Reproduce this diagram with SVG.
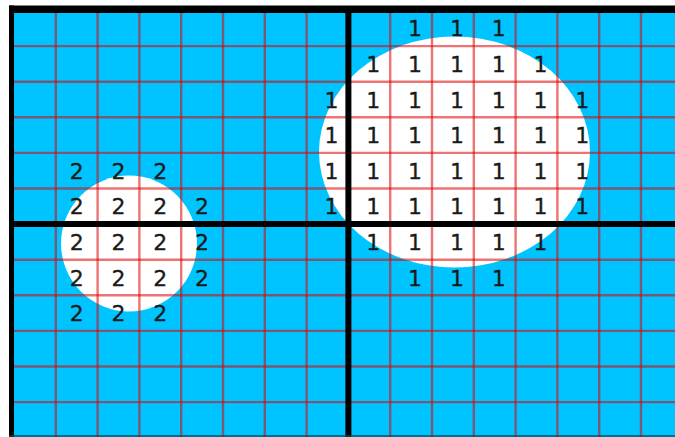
<svg xmlns="http://www.w3.org/2000/svg" width="675" height="437" viewBox="0 0 675 437">
<style>
.g{stroke:#e00000;stroke-opacity:0.55;stroke-width:2.4;fill:none}
.b{stroke:#000;stroke-width:6;fill:none}
.n{font-family:"DejaVu Sans",sans-serif;font-size:22px;fill:#1a1a1a;text-anchor:middle;stroke:#1a1a1a;stroke-width:0.3}
</style>
<rect x="0" y="0" width="675" height="437" fill="#ffffff"/>
<g id="background">
<rect x="9" y="6" width="666" height="431" fill="#00c4ff"/>
</g>
<g id="blobs">
<ellipse cx="454.5" cy="152" rx="135.5" ry="115.5" fill="#ffffff"/>
<circle cx="129" cy="243.5" r="68" fill="#ffffff"/>
</g>
<g id="grid" class="g">
<path d="M55.8 10V437M97.6 10V437M139.4 10V437M181.2 10V437M223 10V437M264.8 10V437M306.6 10V437M390.2 10V437M432 10V437M473.8 10V437M515.6 10V437M557.4 10V437M599.2 10V437M641 10V437"/>
<path d="M12 46.1H675M12 81.7H675M12 117.3H675M12 152.9H675M12 188.5H675M12 259.7H675M12 295.3H675M12 330.9H675M12 366.5H675M12 402.1H675"/>
</g>
<g id="axes">
<rect x="9" y="5.5" width="666" height="7.5" fill="#000"/>
<rect x="9" y="5.5" width="5" height="431.5" fill="#000"/>
<line class="b" x1="348.4" y1="10" x2="348.4" y2="437"/>
<line class="b" x1="12" y1="224.1" x2="675" y2="224.1"/>
<line x1="9" y1="436" x2="675" y2="436" stroke="#0a4a5a" stroke-width="2" stroke-opacity="0.7"/>
</g>
<g id="ones" transform="translate(4 0)">
<text class="n" x="411.1" y="36.3">1</text><text class="n" x="452.9" y="36.3">1</text><text class="n" x="494.7" y="36.3">1</text>
<text class="n" x="369.3" y="71.9">1</text><text class="n" x="411.1" y="71.9">1</text><text class="n" x="452.9" y="71.9">1</text><text class="n" x="494.7" y="71.9">1</text><text class="n" x="536.5" y="71.9">1</text>
<text class="n" x="327.5" y="107.5">1</text><text class="n" x="369.3" y="107.5">1</text><text class="n" x="411.1" y="107.5">1</text><text class="n" x="452.9" y="107.5">1</text><text class="n" x="494.7" y="107.5">1</text><text class="n" x="536.5" y="107.5">1</text><text class="n" x="578.3" y="107.5">1</text>
<text class="n" x="327.5" y="143.1">1</text><text class="n" x="369.3" y="143.1">1</text><text class="n" x="411.1" y="143.1">1</text><text class="n" x="452.9" y="143.1">1</text><text class="n" x="494.7" y="143.1">1</text><text class="n" x="536.5" y="143.1">1</text><text class="n" x="578.3" y="143.1">1</text>
<text class="n" x="327.5" y="178.7">1</text><text class="n" x="369.3" y="178.7">1</text><text class="n" x="411.1" y="178.7">1</text><text class="n" x="452.9" y="178.7">1</text><text class="n" x="494.7" y="178.7">1</text><text class="n" x="536.5" y="178.7">1</text><text class="n" x="578.3" y="178.7">1</text>
<text class="n" x="327.5" y="214.3">1</text><text class="n" x="369.3" y="214.3">1</text><text class="n" x="411.1" y="214.3">1</text><text class="n" x="452.9" y="214.3">1</text><text class="n" x="494.7" y="214.3">1</text><text class="n" x="536.5" y="214.3">1</text><text class="n" x="578.3" y="214.3">1</text>
<text class="n" x="369.3" y="249.9">1</text><text class="n" x="411.1" y="249.9">1</text><text class="n" x="452.9" y="249.9">1</text><text class="n" x="494.7" y="249.9">1</text><text class="n" x="536.5" y="249.9">1</text>
<text class="n" x="411.1" y="285.5">1</text><text class="n" x="452.9" y="285.5">1</text><text class="n" x="494.7" y="285.5">1</text>
</g>
<g id="twos">
<text class="n" x="76.7" y="178.7">2</text><text class="n" x="118.5" y="178.7">2</text><text class="n" x="160.3" y="178.7">2</text>
<text class="n" x="76.7" y="214.3">2</text><text class="n" x="118.5" y="214.3">2</text><text class="n" x="160.3" y="214.3">2</text><text class="n" x="202.1" y="214.3">2</text>
<text class="n" x="76.7" y="249.9">2</text><text class="n" x="118.5" y="249.9">2</text><text class="n" x="160.3" y="249.9">2</text><text class="n" x="202.1" y="249.9">2</text>
<text class="n" x="76.7" y="285.5">2</text><text class="n" x="118.5" y="285.5">2</text><text class="n" x="160.3" y="285.5">2</text><text class="n" x="202.1" y="285.5">2</text>
<text class="n" x="76.7" y="321.1">2</text><text class="n" x="118.5" y="321.1">2</text><text class="n" x="160.3" y="321.1">2</text>
</g>
</svg>
